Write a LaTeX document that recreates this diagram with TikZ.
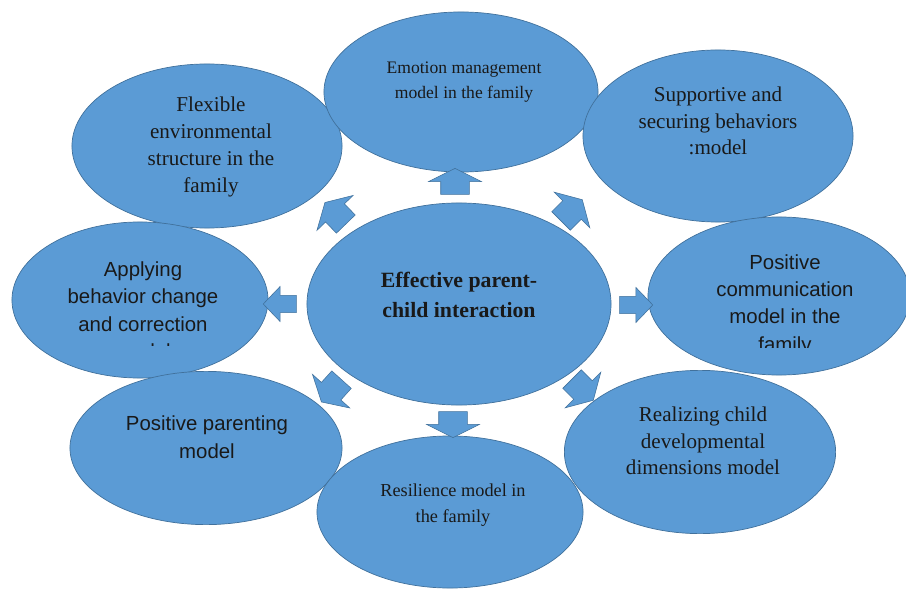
\documentclass[tikz,border=0pt]{standalone}
\usepackage{fontspec}
\setmainfont{Liberation Serif}
\newfontfamily\bubblesans{Liberation Sans}
\usetikzlibrary{shapes.geometric,shapes.arrows}
\definecolor{bubblefill}{HTML}{5B9BD5}
\definecolor{bubbleline}{HTML}{41719C}
\tikzset{
  bubble/.style={ellipse, draw=bubbleline, fill=bubblefill, line width=0.5pt, inner sep=0pt},
  seriftext/.style={align=center, text=black!90, font=\fontsize{15}{19}\selectfont},
  sanstext/.style={align=center, text=black!90, font=\bubblesans\fontsize{14.5}{19.5}\selectfont},
  flow/.style={single arrow, draw=bubbleline, fill=bubblefill, line width=0.4pt, inner xsep=0pt},
  vflow/.style={flow, inner ysep=0.35cm, single arrow head extend=0.3cm, single arrow tip angle=127, minimum height=0.65cm},
  hflow/.style={flow, inner ysep=0.21cm, single arrow head extend=0.22cm, single arrow tip angle=92, minimum height=0.83cm},
  dflow/.style={flow, inner ysep=0.32cm, single arrow head extend=0.3cm, single arrow tip angle=120, minimum height=0.75cm}
}
\begin{document}
\begin{tikzpicture}[x=0.025cm,y=-0.025cm]
  \useasboundingbox (0,0) rectangle (906,590);
  % outer models
  \node[bubble, minimum width=6.75cm, minimum height=4.1cm]  at (207,146) (flex) {};
  \node[bubble, minimum width=6.85cm, minimum height=4.0cm]  at (461,92)  (emotion) {};
  \node[bubble, minimum width=6.75cm, minimum height=4.3cm]  at (718,136) (support) {};
  \node[bubble, minimum width=6.55cm, minimum height=3.95cm] at (779,296) (comm) {};
  \node[bubble, minimum width=6.4cm,  minimum height=3.9cm]  at (140,300) (apply) {};
  \node[bubble, minimum width=6.8cm,  minimum height=3.83cm] at (206,448) (parent) {};
  \node[bubble, minimum width=6.78cm, minimum height=4.08cm] at (700,452) (realize) {};
  \node[bubble, minimum width=6.65cm, minimum height=3.8cm]  at (450,512) (resil) {};
  % centre
  \node[bubble, minimum width=7.6cm, minimum height=5.05cm] at (459,304) (centre) {};
  % arrows out of the centre
  \node[vflow, rotate=90]  at (455,185) (toemotion) {};
  \node[vflow, rotate=-90] at (453,421) (toresil) {};
  \node[hflow, rotate=180] at (284,304) (toapply) {};
  \node[hflow]             at (632,305) (tocomm) {};
  \node[dflow, rotate=134] at (338,216) (toflex) {};
  \node[dflow, rotate=45]  at (569,213) (tosupport) {};
  \node[dflow, rotate=228] at (334,388) (toparent) {};
  \node[dflow, rotate=-45] at (580,387) (torealize) {};
  % texts
  \node[seriftext, font=\bfseries\fontsize{15.5}{21}\selectfont] at (459,295) (centretext)
    {Effective parent-\\child interaction};
  \node[seriftext] at (211,147) (flextext)
    {Flexible\\environmental\\structure in the\\family};
  \node[seriftext, font=\fontsize{12.5}{17.5}\selectfont] at (464,82) (emotiontext)
    {Emotion management\\model in the family};
  \node[seriftext] at (718,121) (supporttext)
    {Supportive and\\securing behaviors\\:model};
  \node[seriftext] at (703,441) (realizetext)
    {Realizing child\\developmental\\dimensions model};
  \node[seriftext, font=\fontsize{13}{18.5}\selectfont] at (453,505) (resiltext)
    {Resilience model in\\the family};
  \node[sanstext] at (207,437) (parenttext)
    {Positive parenting\\model};
  \begin{scope}
    \clip (30,240) rectangle (260,345);
    \node[sanstext] at (143,310) (applytext)
      {Applying\\behavior change\\and correction\\model};
  \end{scope}
  \begin{scope}
    \clip (670,240) rectangle (900,347);
    \node[sanstext] at (785,305) (commtext)
      {Positive\\communication\\model in the\\family};
  \end{scope}
\end{tikzpicture}
\end{document}
